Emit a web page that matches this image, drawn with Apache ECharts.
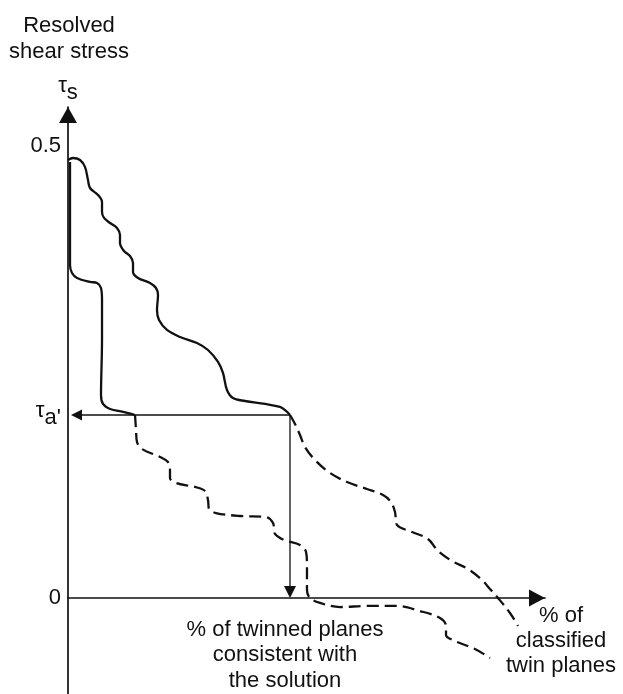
<!DOCTYPE html>
<html><head><meta charset="utf-8">
<script src="https://cdn.jsdelivr.net/npm/echarts@6/dist/echarts.min.js"></script>
<style>html,body{margin:0;padding:0;background:#fff}#c{width:623px;height:694px}</style>
</head><body><div id="c"></div>
<script>
// ---- data (x: % of classified twin planes, y: resolved shear stress) ----
const TAU_A = 0.2024;
const X_CORNER = 46.54;
const yTickValues = [0, TAU_A, 0.5];
const yTickLabels = ['0', "{t|τ}{s|a'}", '0.5'];

const outerSolid = [[0,0.4845],[1.05,0.4867],[2.52,0.4845],[3.56,0.4768],[4.19,0.4624],[4.61,0.4535],[6.29,0.4458],[7.13,0.4381],[7.13,0.4270],[7.55,0.4204],[8.81,0.4148],[10.27,0.4093],[10.90,0.4015],[10.90,0.3927],[11.74,0.3838],[13.00,0.3783],[13.63,0.3706],[13.63,0.3606],[14.68,0.3540],[17.19,0.3485],[18.45,0.3429],[18.87,0.3352],[18.66,0.3186],[19.08,0.3075],[20.75,0.2965],[23.48,0.2887],[27.04,0.2821],[29.35,0.2743],[31.45,0.2611],[32.49,0.2489],[33.33,0.2301],[34.59,0.2212],[37.11,0.2179],[41.30,0.2146],[44.44,0.2113],[45.70,0.2069],[46.54,0.2024]];

const innerSolid = [[0.42,0.4823],[0.42,0.3684],[0.84,0.3595],[1.89,0.3540],[4.61,0.3496],[6.08,0.3485],[6.92,0.3429],[7.13,0.3296],[7.13,0.2854],[6.92,0.2246],[7.34,0.2146],[8.81,0.2091],[11.53,0.2058],[14.05,0.2024]];

const outerDashed = [[46.54,0.2024],[47.59,0.1925],[48.64,0.1803],[49.69,0.1670],[51.78,0.1527],[54.93,0.1383],[58.49,0.1283],[62.68,0.1206],[66.04,0.1139],[67.71,0.1062],[68.55,0.0951],[68.97,0.0808],[72.12,0.0730],[75.47,0.0653],[77.57,0.0520],[80.50,0.0409],[83.86,0.0321],[86.58,0.0210],[88.47,0.0100],[90.15,0],[92.66,-0.0166],[94.34,-0.0310]];

const innerDashed = [[14.05,0.2024],[14.26,0.1858],[14.47,0.1726],[15.51,0.1648],[19.29,0.1560],[20.96,0.1504],[21.38,0.1416],[21.38,0.1327],[22.64,0.1272],[26.62,0.1228],[28.72,0.1184],[29.35,0.1084],[29.56,0.0985],[31.03,0.0940],[36.06,0.0907],[41.51,0.0896],[42.98,0.0830],[43.40,0.0708],[45.28,0.0642],[48.64,0.0586],[49.90,0.0509],[50.10,0.0365],[50.10,0.0088],[50.73,0],[52.83,-0.0055],[57.02,-0.0100],[62.68,-0.0088],[68.97,-0.0088],[73.79,-0.0144],[77.99,-0.0221],[79.25,-0.0310],[79.25,-0.0409],[81.13,-0.0476],[85.32,-0.0564],[88.47,-0.0664]];

// ---- chart ----
const INK = '#111';
const FONT = '"Liberation Sans", Arial, Helvetica, sans-serif';
const richSub = {
  t: {fontSize: 22, fontFamily: FONT, color: INK, lineHeight: 22, padding: [0,0,9,0]},
  s: {fontSize: 22, fontFamily: FONT, color: INK, lineHeight: 22, padding: [5,0,0,0]}
};

const chart = echarts.init(document.getElementById('c'), null, {renderer: 'canvas'});
chart.setOption({
  animation: false,
  backgroundColor: '#fff',
  grid: {left: 68, right: 78, top: 107, bottom: 0, containLabel: false, outerBoundsMode: 'none'},
  xAxis: {
    type: 'value', min: 0, max: 100,
    axisLine: {onZero: true, lineStyle: {color: INK, width: 1.7}, symbol: ['none','triangle'], symbolSize: [17,16], symbolOffset: [0,-8]},
    axisTick: {show: false}, axisLabel: {show: false}, splitLine: {show: false},
    name: '% of\nclassified\ntwin planes', nameLocation: 'end', nameGap: 16,
    nameTextStyle: {fontSize: 22, fontFamily: FONT, color: INK, lineHeight: 25, align: 'center', verticalAlign: 'top', padding: [5,0,0,0]}
  },
  yAxis: {
    type: 'value', min: -0.1062, max: 0.5431,
    axisLine: {onZero: true, lineStyle: {color: INK, width: 1.7}, symbol: ['none','triangle'], symbolSize: [18,16], symbolOffset: [0,-8]},
    axisTick: {show: false}, splitLine: {show: false},
    axisLabel: {
      customValues: yTickValues, margin: 7, fontSize: 22, fontFamily: FONT, color: INK,
      formatter: function (v) {
        const i = yTickValues.findIndex(function (t) { return Math.abs(t - v) < 1e-6; });
        return i >= 0 ? yTickLabels[i] : '';
      },
      rich: richSub
    },
    name: '{t|τ}{s|s}', nameLocation: 'end', nameGap: 6,
    nameTextStyle: {rich: richSub}
  },
  graphic: [
    {type: 'text', x: 69, y: 13, style: {text: 'Resolved\nshear stress', font: '22px ' + FONT, fill: INK, align: 'center', verticalAlign: 'top', lineHeight: 26}},
    {type: 'text', x: 285, y: 617, style: {text: '% of twinned planes\nconsistent with\nthe solution', font: '22px ' + FONT, fill: INK, align: 'center', verticalAlign: 'top', lineHeight: 25.5}}
  ],
  series: [
    {type: 'line', name: 'outerSolid', data: outerSolid, showSymbol: false, symbol: 'none', smooth: 0.35, silent: true, lineStyle: {color: INK, width: 2.3}},
    {type: 'line', name: 'innerSolid', data: innerSolid, showSymbol: false, symbol: 'none', smooth: 0.35, silent: true, lineStyle: {color: INK, width: 2.3}},
    {type: 'line', name: 'outerDashed', data: outerDashed, showSymbol: false, symbol: 'none', smooth: 0.35, silent: true, lineStyle: {color: INK, width: 2.3, type: [12,6]}},
    {type: 'line', name: 'innerDashed', data: innerDashed, showSymbol: false, symbol: 'none', smooth: 0.35, silent: true, lineStyle: {color: INK, width: 2.3, type: [12,6]}},
    {
      type: 'custom', name: 'projection', coordinateSystem: 'cartesian2d', silent: true, clip: false,
      data: [[X_CORNER, TAU_A]], encode: {x: 0, y: 1},
      renderItem: function (params, api) {
        const corner = api.coord([api.value(0), api.value(1)]);
        const left = api.coord([0, api.value(1)]);
        const bottom = api.coord([api.value(0), 0]);
        const hTip = left[0] + 3;
        const vTip = bottom[1];
        return {type: 'group', children: [
          {type: 'line', shape: {x1: corner[0], y1: corner[1], x2: hTip + 8, y2: corner[1]}, style: {stroke: INK, lineWidth: 1.3}},
          {type: 'polygon', shape: {points: [[hTip, corner[1]], [hTip + 11, corner[1] - 5.5], [hTip + 11, corner[1] + 5.5]]}, style: {fill: INK}},
          {type: 'line', shape: {x1: corner[0], y1: corner[1], x2: corner[0], y2: vTip - 8}, style: {stroke: INK, lineWidth: 1.3}},
          {type: 'polygon', shape: {points: [[corner[0], vTip], [corner[0] - 6, vTip - 12], [corner[0] + 6, vTip - 12]]}, style: {fill: INK}}
        ]};
      }
    }
  ]
});
</script>
</body></html>
